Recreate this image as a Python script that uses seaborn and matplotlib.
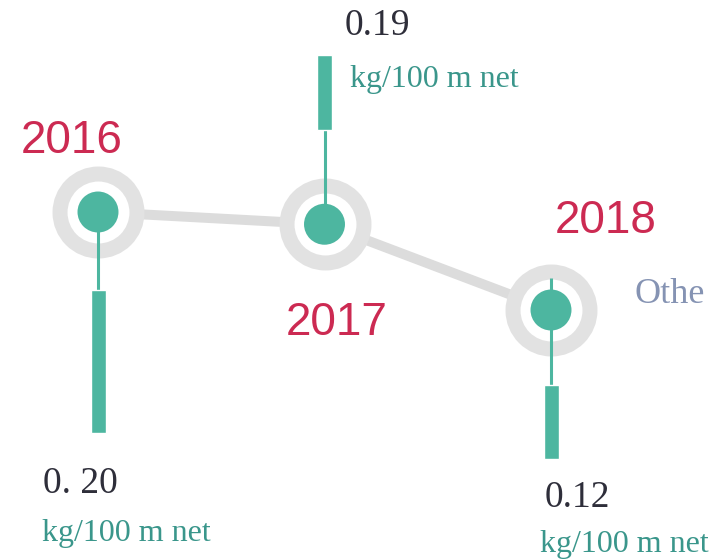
import numpy as np
import pandas as pd
import matplotlib
matplotlib.use('Agg')
import matplotlib.pyplot as plt
import seaborn as sns

sns.set_style("white")

# data
years = ['2016', '2017', '2018']
values = [0.20, 0.19, 0.12]
value_labels = ['0. 20', '0.19', '0.12']
unit_label = 'kg/100 m net'
side_label = 'Othe'   # cut off at the right edge in the original

df = pd.DataFrame({'pos': np.arange(len(years)), 'value': values})

teal = '#4db6a0'
ring_grey = '#e2e2e2'
crimson = '#cc2a52'
num_color = '#2e2e3a'
unit_color = '#3a968b'

PX_X = 226.5     # pixels per year step
PX_Y = 1225.0    # pixels per kg unit

fig = plt.figure(figsize=(7.11, 5.59), dpi=100)
ax = fig.add_axes([0, 0, 1, 1])
x0 = -98 / PX_X
ax.set_xlim(x0, x0 + 711 / PX_X)
y_top = 0.20 + 212 / PX_Y
ax.set_ylim(y_top - 559 / PX_Y, y_top)
ax.axis('off')

# connecting line, rings and dots
sns.lineplot(data=df, x='pos', y='value', color='#dcdcdc', linewidth=7.2, ax=ax, zorder=1)
sns.scatterplot(data=df, x='pos', y='value', s=3070, color='white', edgecolor=ring_grey,
                linewidth=10.8, ax=ax, zorder=2)
sns.scatterplot(data=df, x='pos', y='value', s=870, color=teal, edgecolor='none', ax=ax, zorder=4)

# stems and bars, offsets in pixels below the dot centre
stem_spans = [(0, 78), (-94, 0), (-32, 75)]
bar_spans = [(78, 221), (-169, -94), (75, 149)]
for i, v in enumerate(values):
    s0, s1 = stem_spans[i]
    ax.vlines(i, v - s0 / PX_Y, v - s1 / PX_Y, color=teal, linewidth=2.2, zorder=3)
    b0, b1 = bar_spans[i]
    ax.bar(i, (b1 - b0) / PX_Y, bottom=v - b1 / PX_Y, width=15 / PX_X, color=teal, zorder=4)

# labels (offsets in pixels: right, down)
year_off = [(-26, -59), (12, 111), (55, -77)]
val_off = [(-55, 281), (20, -189), (-6, 197)]
unit_off = [(-56, 329), (25, -137), (-11, 242)]
for i, v in enumerate(values):
    dx, dy = year_off[i]
    ax.annotate(years[i], (i, v), xytext=(dx, -dy), textcoords='offset pixels',
                ha='center', va='baseline', fontsize=33, color=crimson,
                family='Liberation Sans')
    dx, dy = val_off[i]
    ax.annotate(value_labels[i], (i, v), xytext=(dx, -dy), textcoords='offset pixels',
                ha='left', va='baseline', fontsize=27, color=num_color,
                family='Liberation Serif')
    dx, dy = unit_off[i]
    ax.annotate(unit_label, (i, v), xytext=(dx, -dy), textcoords='offset pixels',
                ha='left', va='baseline', fontsize=23, color=unit_color,
                family='Liberation Serif')

ax.annotate(side_label, (2, values[2]), xytext=(84, 7), textcoords='offset pixels',
            ha='left', va='baseline', fontsize=26, color='#8593b3',
            family='Liberation Serif', annotation_clip=False)

fig.savefig('out.png', dpi=100)
